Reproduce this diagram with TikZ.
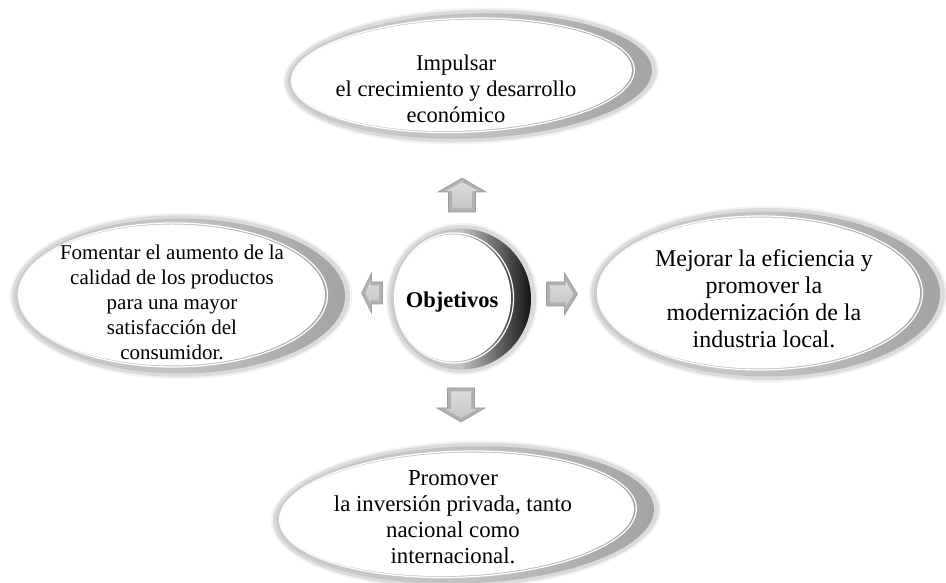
\documentclass[tikz,border=0pt]{standalone}
\usepackage{fontspec}
\setmainfont{Liberation Serif}

% soft inner edge for the white faces of the rings
\pgfdeclareradialshading{innerglow}{\pgfpoint{0bp}{0bp}}{%
  color(0bp)=(white); color(40bp)=(white); color(47.5bp)=(gray!12); color(50bp)=(gray!30)}

\begin{document}
\begin{tikzpicture}[x=1pt,y=1pt,
  txt/.style={align=center, inner sep=0pt, text=black},
  % silver ring: #1 = x radius, #2 = y radius, #3 = colour of the dark side
  pics/ring/.style n args={3}{code={
    \fill[gray!10] (0,0) ellipse [x radius=#1+2, y radius=#2+2];
    \fill[gray!28] (0,0) ellipse [x radius=#1, y radius=#2];
    \shade[left color=gray!40, right color=#3, middle color=gray!48]
      (-1,0) ellipse [x radius=#1-4, y radius=#2-3.5];
    \draw[white, line width=1.2pt] (-8,1) ellipse [x radius=#1-14.5, y radius=#2-9];
    \shade[shading=innerglow] (-9,1) ellipse [x radius=#1-16, y radius=#2-10.5];
  }},
  % bevelled block arrow pointing up: #1 length, #2 head width, #3 shaft width, #4 head length
  pics/blockarrow/.style n args={4}{code={
    \fill[gray!62, draw=gray!78, line width=0.6pt]
      (0,#1/2) -- (#2/2,#1/2-#4) -- (#3/2,#1/2-#4) -- (#3/2,-#1/2)
      -- (-#3/2,-#1/2) -- (-#3/2,#1/2-#4) -- (-#2/2,#1/2-#4) -- cycle;
    \shade[top color=gray!28, bottom color=gray!45]
      (0,#1/2-4) -- (#2/2-8,#1/2-#4+1) -- (#3/2-3.5,#1/2-#4+1) -- (#3/2-3.5,-#1/2+3.5)
      -- (-#3/2+3.5,-#1/2+3.5) -- (-#3/2+3.5,#1/2-#4+1) -- (-#2/2+8,#1/2-#4+1) -- cycle;
  }}
]
\useasboundingbox (0,0) rectangle (946,583);
\fill[white] (0,0) rectangle (946,583);

% rings
\pic[rotate=2] (ringtop) at (471,507) {ring={186}{66}{gray!72}};
\pic (ringright) at (768,289) {ring={177}{86}{gray!72}};
\pic (ringleft) at (181,287) {ring={169}{81}{gray!72}};
\pic[rotate=2] (ringbottom) at (466,68) {ring={193}{72}{gray!72}};
\pic (ringcenter) at (462,284) {ring={74}{74}{black!92}};

% block arrows around the centre
\pic (aup) at (462,388) {blockarrow={34}{48}{27}{14}};
\pic[rotate=180] (adown) at (461,178) {blockarrow={34}{48}{27}{14}};
\pic[rotate=-90] (aright) at (562,289) {blockarrow={31}{42}{24}{13}};
\pic[rotate=90] (aleft) at (372,290) {blockarrow={21}{40}{22}{10}};

% texts
\node[txt, font=\bfseries\fontsize{22.5}{26}\selectfont] (obj) at (452,281) {Objetivos};
\node[txt, font=\fontsize{22.5}{26}\selectfont] (top) at (456,494)
  {Impulsar\\el crecimiento y desarrollo\\económico};
\node[txt, font=\fontsize{24}{27}\selectfont] (right) at (764,284)
  {Mejorar la eficiencia y\\promover la\\modernización de la\\industria local.};
\node[txt, font=\fontsize{21}{25}\selectfont] (left) at (172,281)
  {Fomentar el aumento de la\\calidad de los productos\\para una mayor\\satisfacción del\\consumidor.};
\node[txt, font=\fontsize{22.8}{26}\selectfont] (bottom) at (453,66)
  {Promover\\la inversión privada, tanto\\nacional como\\internacional.};
\end{tikzpicture}
\end{document}
